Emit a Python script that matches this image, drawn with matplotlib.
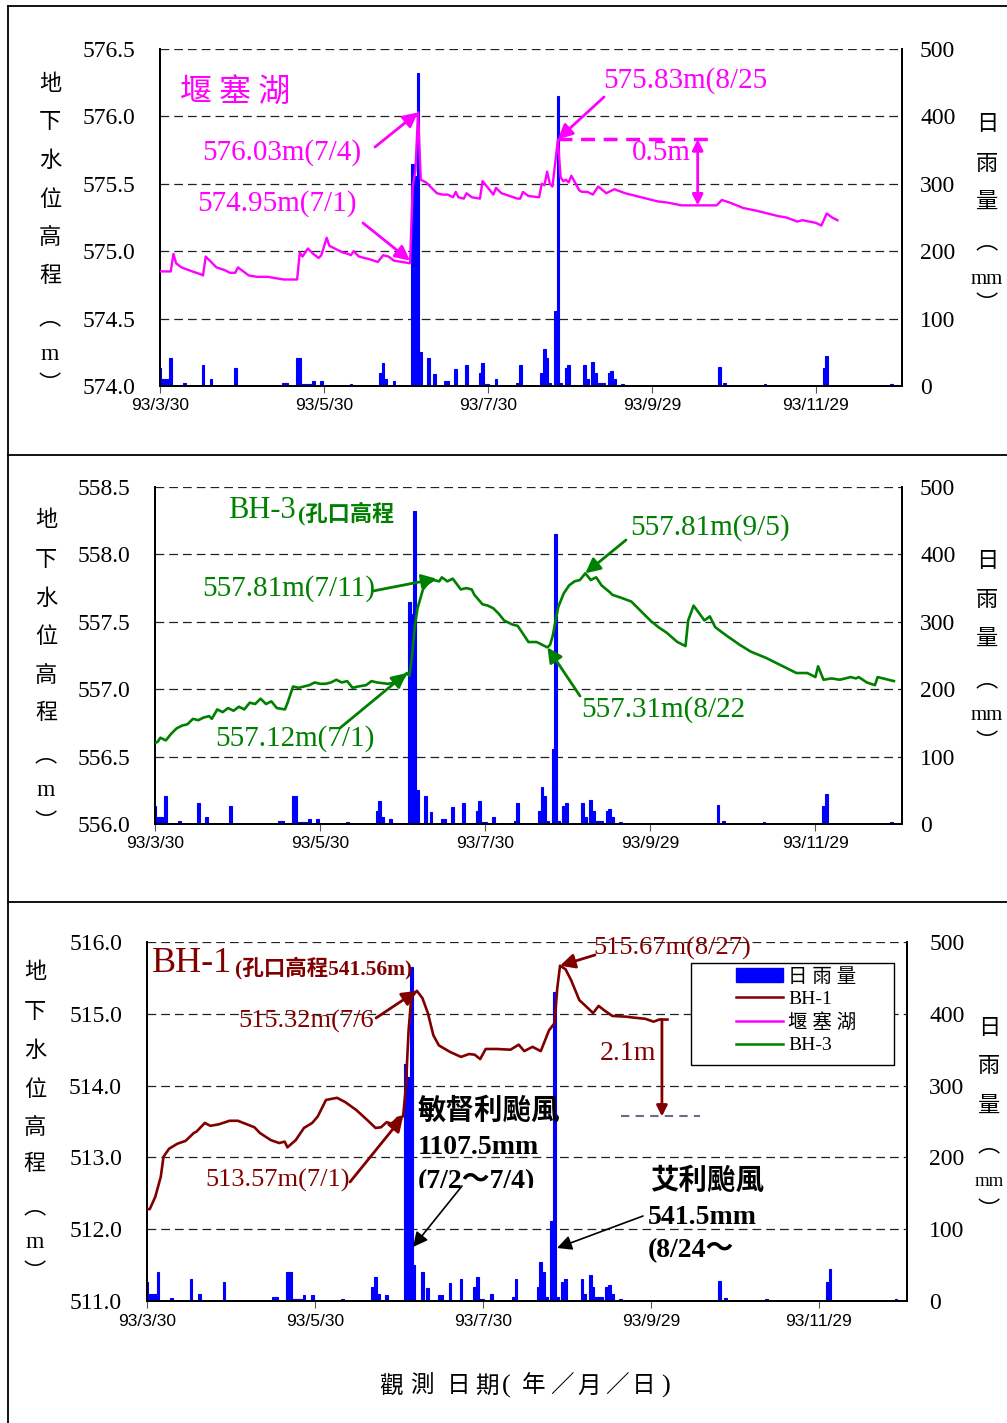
import numpy as np
import pandas as pd
import matplotlib
matplotlib.use('Agg')
import matplotlib.pyplot as plt
from matplotlib.lines import Line2D
from matplotlib.patches import Patch, Rectangle
from matplotlib.transforms import Bbox, TransformedBbox

YEAR = 2004  # 民國93年

# daily rainfall (mm)
rain_dates = ['03/30', '03/31', '04/01', '04/02', '04/03', '04/08', '04/15', '04/18', '04/27',
              '05/15', '05/16', '05/20', '05/21', '05/22', '05/23', '05/24', '05/25', '05/26', '05/29',
              '06/09', '06/20', '06/21', '06/22', '06/25',
              '07/02', '07/03', '07/04', '07/05', '07/08', '07/10', '07/14', '07/15', '07/18', '07/22',
              '07/27', '07/28', '07/29', '07/30', '08/02', '08/10', '08/11',
              '08/19', '08/20', '08/21', '08/22', '08/24', '08/25', '08/26', '08/28', '08/29', '09/04',
              '09/05', '09/07', '09/08', '09/09', '09/10', '09/11', '09/13', '09/14', '09/15', '09/18',
              '10/24', '10/26', '11/10', '12/02', '12/03', '12/27']
rain_mm = [27, 10, 10, 10, 41, 4, 31, 10, 27,
           5, 5, 41, 41, 3, 3, 3, 3, 8, 8,
           3, 19, 34, 10, 8,
           330, 312, 465, 50, 41, 18, 8, 8, 25, 31,
           19, 34, 3, 3, 10, 5, 31,
           19, 55, 41, 5, 112, 430, 5, 27, 31, 31,
           10, 36, 20, 5, 5, 5, 19, 22, 10, 3,
           28, 4, 3, 27, 44, 3]

# 堰塞湖 water level (m)
lake_dates = ['03/30', '04/03', '04/04', '04/05', '04/07', '04/11', '04/14', '04/15', '04/16', '04/18',
              '04/20', '04/23', '04/25', '04/27', '04/28', '04/30', '05/02', '05/05', '05/09', '05/12',
              '05/15', '05/20', '05/21', '05/22', '05/24', '05/26', '05/28', '05/29', '05/31', '06/01',
              '06/03', '06/06', '06/08', '06/09', '06/10', '06/12', '06/14', '06/16', '06/19', '06/21',
              '06/23', '06/25', '06/28', '07/01', '07/02', '07/03', '07/04', '07/05', '07/06', '07/07',
              '07/09', '07/11', '07/13', '07/15', '07/17', '07/18', '07/19', '07/21', '07/22', '07/24',
              '07/27', '07/28', '07/30', '08/01', '08/02', '08/04', '08/07', '08/10', '08/11', '08/12',
              '08/14', '08/18', '08/19', '08/20', '08/21', '08/22', '08/23', '08/25', '08/26', '08/27',
              '08/28', '08/29', '08/30', '09/02', '09/03', '09/05', '09/07', '09/09', '09/12', '09/14',
              '09/15', '09/19', '09/23', '09/27', '10/01', '10/05', '10/10', '10/23', '10/25', '10/28',
              '11/02', '11/07', '11/11', '11/15', '11/18', '11/22', '11/24', '11/29', '12/01', '12/03',
              '12/05', '12/07']
lake_level = [574.85, 574.85, 574.98, 574.91, 574.88, 574.85, 574.83, 574.82, 574.96, 574.92,
              574.88, 574.86, 574.84, 574.84, 574.88, 574.85, 574.82, 574.81, 574.81, 574.80,
              574.79, 574.79, 574.99, 574.96, 575.02, 574.98, 574.95, 574.97, 575.10, 575.04,
              575.02, 574.99, 574.98, 574.97, 575.00, 574.96, 574.95, 574.94, 574.92, 574.97,
              574.96, 574.93, 574.92, 574.91, 575.48, 575.60, 576.03, 575.53, 575.52, 575.51,
              575.47, 575.43, 575.42, 575.42, 575.40, 575.44, 575.40, 575.39, 575.43, 575.40,
              575.39, 575.52, 575.47, 575.42, 575.47, 575.43, 575.41, 575.39, 575.39, 575.44,
              575.41, 575.40, 575.50, 575.49, 575.59, 575.50, 575.48, 575.83, 575.55, 575.52,
              575.53, 575.51, 575.56, 575.45, 575.44, 575.44, 575.42, 575.48, 575.43, 575.45,
              575.46, 575.43, 575.41, 575.39, 575.37, 575.36, 575.34, 575.34, 575.38, 575.36,
              575.32, 575.30, 575.28, 575.26, 575.25, 575.22, 575.23, 575.21, 575.19, 575.28,
              575.25, 575.23]

# BH-3 groundwater level (m)
bh3_dates = ['03/30', '03/31', '04/01', '04/03', '04/05', '04/07', '04/09', '04/11', '04/13', '04/15',
             '04/17', '04/19', '04/20', '04/22', '04/24', '04/26', '04/28', '04/30', '05/02', '05/04',
             '05/06', '05/08', '05/10', '05/12', '05/14', '05/17', '05/18', '05/20', '05/22', '05/24',
             '05/26', '05/28', '05/30', '06/01', '06/03', '06/05', '06/07', '06/09', '06/11', '06/13',
             '06/16', '06/18', '06/20', '06/24', '06/27', '06/29', '06/30', '07/01', '07/02', '07/03',
             '07/04', '07/05', '07/07', '07/09', '07/11', '07/13', '07/14', '07/16', '07/18', '07/21',
             '07/23', '07/25', '07/26', '07/29', '07/31', '08/02', '08/04', '08/06', '08/09', '08/11',
             '08/13', '08/15', '08/18', '08/20', '08/22', '08/23', '08/24', '08/25', '08/26', '08/28',
             '08/30', '09/01', '09/03', '09/05', '09/07', '09/09', '09/11', '09/14', '09/15', '09/18',
             '09/22', '09/25', '09/29', '10/02', '10/05', '10/09', '10/12', '10/13', '10/15', '10/19',
             '10/21', '10/23', '10/27', '11/01', '11/05', '11/11', '11/18', '11/22', '11/26', '11/29',
             '11/30', '12/02', '12/05', '12/08', '12/12', '12/14', '12/15', '12/18', '12/21', '12/22',
             '12/28']
bh3_level = [556.60, 556.61, 556.64, 556.62, 556.67, 556.71, 556.73, 556.74, 556.78, 556.77,
             556.79, 556.80, 556.78, 556.85, 556.83, 556.86, 556.84, 556.87, 556.85, 556.90,
             556.89, 556.93, 556.89, 556.91, 556.86, 556.85, 556.90, 557.02, 557.01, 557.02,
             557.03, 557.05, 557.04, 557.04, 557.05, 557.07, 557.05, 557.06, 557.01, 557.02,
             557.03, 557.06, 557.05, 557.04, 557.05, 557.06, 557.09, 557.12, 557.10, 557.25,
             557.47, 557.60, 557.74, 557.79, 557.81, 557.80, 557.83, 557.80, 557.82, 557.74,
             557.75, 557.74, 557.70, 557.63, 557.62, 557.60, 557.56, 557.51, 557.48, 557.47,
             557.41, 557.35, 557.35, 557.33, 557.31, 557.33, 557.40, 557.51, 557.61, 557.71,
             557.77, 557.80, 557.81, 557.86, 557.81, 557.83, 557.77, 557.72, 557.70, 557.68,
             557.65, 557.59, 557.51, 557.46, 557.42, 557.35, 557.32, 557.51, 557.62, 557.51,
             557.54, 557.46, 557.40, 557.33, 557.28, 557.23, 557.16, 557.12, 557.12, 557.09,
             557.17, 557.07, 557.08, 557.07, 557.09, 557.08, 557.09, 557.05, 557.03, 557.09,
             557.06]

# BH-1 groundwater level (m)
bh1_dates = ['03/30', '03/31', '04/02', '04/04', '04/05', '04/07', '04/10', '04/13', '04/16', '04/17',
             '04/20', '04/22', '04/25', '04/29', '05/02', '05/04', '05/08', '05/10', '05/14', '05/17',
             '05/19', '05/20', '05/23', '05/26', '05/29', '05/31', '06/03', '06/07', '06/10', '06/14',
             '06/18', '06/21', '06/23', '06/25', '06/27', '06/29', '07/01', '07/02', '07/03', '07/04',
             '07/06', '07/08', '07/10', '07/12', '07/14', '07/18', '07/22', '07/25', '07/27', '07/29',
             '07/31', '08/04', '08/09', '08/12', '08/14', '08/17', '08/20', '08/23', '08/25', '08/26',
             '08/27', '08/29', '08/31', '09/03', '09/05', '09/08', '09/10', '09/12', '09/15', '09/20',
             '09/22', '09/27', '09/30', '10/02', '10/05']
bh1_level = [512.28, 512.28, 512.45, 512.73, 513.01, 513.12, 513.19, 513.23, 513.34, 513.36,
             513.48, 513.44, 513.46, 513.51, 513.51, 513.48, 513.42, 513.34, 513.24, 513.20,
             513.22, 513.14, 513.24, 513.41, 513.48, 513.57, 513.80, 513.83, 513.77, 513.66,
             513.52, 513.41, 513.42, 513.49, 513.47, 513.55, 513.57, 513.98, 514.77, 515.23,
             515.32, 515.22, 515.01, 514.70, 514.56, 514.47, 514.40, 514.44, 514.43, 514.37,
             514.51, 514.51, 514.50, 514.57, 514.48, 514.54, 514.48, 514.77, 514.87, 515.36,
             515.67, 515.62, 515.47, 515.19, 515.12, 515.01, 515.11, 515.05, 514.97, 514.96,
             514.95, 514.93, 514.89, 514.92, 514.92]

tick_dates = ['03/30', '05/30', '07/30', '09/29', '11/29']
tick_labels = ['93/3/30', '93/5/30', '93/7/30', '93/9/29', '93/11/29']


def to_dt(md):
    return pd.to_datetime([f'{YEAR}/{d}' for d in md])


def d1(md):
    return pd.Timestamp(f'{YEAR}/{md}')


SERIF = ['Liberation Serif', 'Noto Sans CJK TC']
CJK = ['Noto Sans CJK TC', 'Liberation Serif']
plt.rcParams['font.family'] = SERIF

W, H = 1007, 1423
fig = plt.figure(figsize=(W / 100, H / 100), dpi=100)


def fx(x):
    return x / W


def fy(y):
    return 1 - y / H


MAG = '#FF00FF'
GRN = '#008000'
RED = '#800000'
BLUE = '#0000FF'

rain_x = to_dt(rain_dates)
x0, x1 = d1('03/30'), d1('12/31')


def make_panel(l, t, r, b, ylim, yticks, dates, level, color, lpad, rpad):
    ax = fig.add_axes([fx(l), fy(b), (r - l) / W, (b - t) / H])
    axr = ax.twinx()
    ax.set_zorder(axr.get_zorder() + 1)
    ax.patch.set_visible(False)

    bars = axr.bar(rain_x, rain_mm, width=1.0, color=BLUE, edgecolor=BLUE,
                   linewidth=0.8, align='center')
    axr.set_ylim(0, 500)
    axr.set_yticks(range(0, 501, 100))
    axr.grid(axis='y', color='#222222', ls=(0, (7, 4)), lw=0.9)
    axr.set_axisbelow(True)
    axr.tick_params(axis='y', length=0, pad=rpad, labelsize=17)

    line, = ax.plot(to_dt(dates), level, color=color, lw=1.9, zorder=3)
    ax.set_ylim(*ylim)
    ax.set_yticks(yticks)
    ax.set_yticklabels([f'{v:.1f}' for v in yticks])
    ax.tick_params(axis='y', length=0, pad=lpad, labelsize=17)
    ax.set_xlim(x0, x1)
    ax.set_xticks(to_dt(tick_dates))
    ax.set_xticklabels(tick_labels, family='Liberation Sans', fontsize=12.5)
    ax.tick_params(axis='x', length=5, direction='out', color='#555555', pad=4)
    for a in (ax, axr):
        a.spines['top'].set_visible(False)
        for s in ('left', 'right', 'bottom'):
            a.spines[s].set_linewidth(1.3)
    return ax, axr, bars, line


def vlabel(x, ys, chars, size=16, mm_size=17):
    for y, ch in zip(ys, chars):
        fam = SERIF if ch.isascii() else CJK
        fs = mm_size if ch.isascii() else size
        fig.text(fx(x), fy(y), ch, ha='center', va='center', fontsize=fs, family=fam)


def arrow(ax, xy, tail, color, lw=2.0, scale=22, style='-|>'):
    ax.annotate('', xy=xy, xycoords='data',
                xytext=(fx(tail[0]), fy(tail[1])), textcoords='figure fraction',
                arrowprops=dict(arrowstyle=style, color=color, lw=lw,
                                mutation_scale=scale, shrinkA=0, shrinkB=0),
                annotation_clip=False)


def ftext(x, y, s, color, size=21, **kw):
    return fig.text(fx(x), fy(y), s, color=color, fontsize=size, ha='left', va='center', **kw)


left_chars = ['地', '下', '水', '位', '高', '程', '︵', 'm', '︶']
right_chars = ['日', '雨', '量', '︵', 'mm', '︶']

# ---------------- panel 1 : 堰塞湖 ----------------
ax1, ax1r, bars1, line_lake = make_panel(160, 49, 902, 386, (574.0, 576.5),
                                         np.arange(574.0, 576.51, 0.5),
                                         lake_dates, lake_level, MAG, 18, 13)
ax1.lines[0].set_linewidth(1.7)
ftext(180, 93, '堰 塞 湖', MAG, size=23, family=CJK)
ftext(202, 153, '576.03m(7/4)', MAG)
arrow(ax1, (d1('07/04'), 576.03), (375, 147), MAG)
ftext(197, 204, '574.95m(7/1)', MAG)
arrow(ax1, (d1('07/01'), 574.93), (363, 223), MAG)
ftext(603, 81, '575.83m(8/25', MAG)
arrow(ax1, (d1('08/25'), 575.83), (604, 97), MAG)
ax1.plot([d1('08/25'), d1('10/20')], [575.83, 575.83], color=MAG, lw=2.5, ls=(0, (4, 2.5)))
ax1.annotate('', xy=(d1('10/16'), 575.34), xytext=(d1('10/16'), 575.83),
             arrowprops=dict(arrowstyle='<|-|>', color=MAG, lw=2, mutation_scale=16,
                             shrinkA=0, shrinkB=0))
ftext(632, 153, '0.5m', MAG)
vlabel(50, [83, 122, 160, 199, 238, 276, 318, 355, 385], left_chars)
vlabel(987, [124, 163, 201, 242, 279, 305], right_chars, mm_size=15)

# ---------------- panel 2 : BH-3 ----------------
ax2, ax2r, bars2, line_bh3 = make_panel(155, 487, 902, 824, (556.0, 558.5),
                                        np.arange(556.0, 558.51, 0.5),
                                        bh3_dates, bh3_level, GRN, 18, 13)
ftext(228, 510, 'BH-3', GRN, size=22)
ftext(298, 514, '(孔口高程', GRN, size=16, fontweight='bold')
ftext(202, 589, '557.81m(7/11)', GRN)
arrow(ax2, (d1('07/12'), 557.82), (373, 591), GRN)
ftext(215, 739, '557.12m(7/1)', GRN)
arrow(ax2, (d1('07/01'), 557.12), (340, 728), GRN)
ftext(630, 528, '557.81m(9/5)', GRN)
arrow(ax2, (d1('09/05'), 557.86), (626, 540), GRN)
ftext(581, 710, '557.31m(8/22', GRN)
arrow(ax2, (d1('08/22'), 557.31), (580, 696), GRN)
vlabel(46, [520, 559, 598, 636, 675, 713, 755, 791, 822], left_chars)
vlabel(987, [561, 600, 638, 680, 716, 743], right_chars, mm_size=15)

# ---------------- panel 3 : BH-1 ----------------
ax3, ax3r, bars3, line_bh1 = make_panel(147, 942, 907, 1301, (511.0, 516.0),
                                        np.arange(511.0, 516.01, 1.0),
                                        bh1_dates, bh1_level, RED, 18, 16)
ftext(152, 963, 'BH-1', RED, size=26)
ftext(235, 968, '(孔口高程541.56m)', RED, size=15.5, fontweight='bold')
ftext(238, 1021, '515.32m(7/6', RED, size=19)
arrow(ax3, (d1('07/06'), 515.32), (376, 1018), RED)
ftext(205, 1180, '513.57m(7/1)', RED, size=19)
arrow(ax3, (d1('07/01'), 513.57), (350, 1182), RED)
ftext(593, 948, '515.67m(8/27)', RED, size=19)
arrow(ax3, (d1('08/27'), 515.67), (595, 955), RED)
ftext(600, 1053, '2.1m', RED, size=20)
ax3.annotate('', xy=(d1('10/03'), 513.57), xytext=(d1('10/03'), 514.92),
             arrowprops=dict(arrowstyle='-|>', color=RED, lw=2, mutation_scale=16,
                             shrinkA=0, shrinkB=0))
ax3.plot([d1('09/18'), d1('10/17')], [513.57, 513.57], color='#6a6a90', lw=1.5, ls=(0, (4, 3)))

ftext(418, 1111, '敏督利颱風', 'black', size=20.5, family=CJK, fontweight='bold')
ftext(418, 1148, '1107.5mm', 'black', size=20, fontweight='bold')
t = ftext(418, 1182, '(7/2～7/4)', 'black', size=20, fontweight='bold')
t.set_clip_box(TransformedBbox(Bbox([[0, fy(1188)], [1, 1]]), fig.transFigure))
ftext(650, 1181, '艾利颱風', 'black', size=20.5, family=CJK, fontweight='bold')
ftext(648, 1217, '541.5mm', 'black', size=20, fontweight='bold')
ftext(648, 1251, '(8/24～', 'black', size=20, fontweight='bold')
ax3.annotate('', xy=(fx(413), fy(1247)), xycoords='figure fraction',
             xytext=(fx(462), fy(1186)), textcoords='figure fraction',
             arrowprops=dict(arrowstyle='-|>', color='black', lw=1.2, mutation_scale=22,
                             shrinkA=0, shrinkB=0))
ax3.annotate('', xy=(fx(557), fy(1248)), xycoords='figure fraction',
             xytext=(fx(643), fy(1216)), textcoords='figure fraction',
             arrowprops=dict(arrowstyle='-|>', color='black', lw=1.2, mutation_scale=22,
                             shrinkA=0, shrinkB=0))
vlabel(35, [972, 1012, 1050, 1089, 1128, 1164, 1207, 1243, 1273], left_chars)
vlabel(989, [1028, 1066, 1105, 1145, 1182, 1210], right_chars, mm_size=13.5)

# legend: frame drawn separately to get the wide padding of the original
fig.add_artist(Rectangle((fx(691), fy(1065)), fx(894) - fx(691), fy(963) - fy(1065),
                         transform=fig.transFigure, facecolor='white', edgecolor='black',
                         lw=1.0, zorder=4))
handles = [Patch(color=BLUE),
           Line2D([], [], color=RED, lw=1.8),
           Line2D([], [], color=MAG, lw=1.8),
           Line2D([], [], color=GRN, lw=1.8)]
leg = fig.legend(handles, ['日 雨 量', 'BH-1', '堰 塞 湖', 'BH-3'],
                 loc='upper left', bbox_to_anchor=(fx(736), fy(968)),
                 bbox_transform=fig.transFigure, frameon=False,
                 handlelength=2.4, handleheight=0.7, handletextpad=0.3,
                 borderpad=0, labelspacing=0.25, borderaxespad=0,
                 prop={'family': SERIF, 'size': 14})
leg.set_zorder(5)

# x-axis title
xt_chars = ['觀', '測', '日', '期', '(', '年', '／', '月', '／', '日', ')']
xt_pos = [391, 422, 459, 487, 506, 534, 562, 589, 617, 644, 666]
for x, ch in zip(xt_pos, xt_chars):
    fam = SERIF if ch.isascii() else CJK
    fs = 19 if ch.isascii() else 17
    fig.text(fx(x), fy(1386), ch, ha='center', va='center', fontsize=fs, family=fam)

# panel frames
for xs, ys in [([8, W], [6, 6]), ([8, 8], [6, H]), ([8, W], [455, 455]), ([8, W], [902, 902])]:
    fig.add_artist(Line2D([fx(v) for v in xs], [fy(v) for v in ys], color='black', lw=1.3))

fig.savefig('out.png', dpi=100)
